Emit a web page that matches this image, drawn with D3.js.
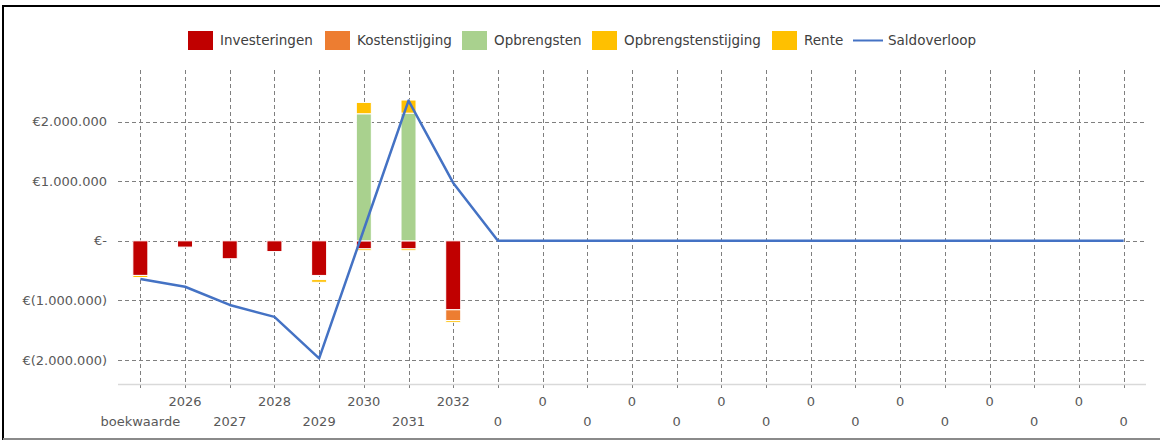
<!DOCTYPE html>
<html>
<head>
<meta charset="utf-8">
<script src="https://cdn.jsdelivr.net/npm/d3@7/dist/d3.min.js"></script>
<style>
  html, body { margin: 0; padding: 0; background: #fff; }
  svg { display: block; font-family: "DejaVu Sans", Verdana, sans-serif; }
</style>
</head>
<body>
<svg id="chart" width="1160" height="440"></svg>
<script>
// ---- data ----
const categories = ["boekwaarde","2026","2027","2028","2029","2030","2031","2032",
  "0","0","0","0","0","0","0","0","0","0","0","0","0","0","0"];
const Z = [0,0,0,0,0,0,0,0,0,0,0,0,0,0,0];
const investeringen       = [-580000,-105000,-300000,-180000,-580000,-135000,-135000,-1156000, ...Z];
const kostenstijging      = [0,0,0,0,0,0,0,-180000, ...Z];
const opbrengsten         = [0,0,0,0,0,2130000,2140000,0, ...Z];
const opbrengstenstijging = [0,0,0,0,0,190000,220000,0, ...Z];
const onzichtbaar         = [0,0,0,0,-70000,0,0,0, ...Z];   // unfilled gap seen in 2029
const rente               = [-35000,0,0,0,-45000,-30000,-30000,-30000, ...Z];
const saldoverloop        = [-640000,-770000,-1075000,-1275000,-1970000,190000,2350000,970000, ...Z];
const yTicks = [-2000000,-1000000,0,1000000,2000000];

const series = [
  {name:"Investeringen", values:investeringen, color:"#C00000", legend:true},
  {name:"Kostenstijging", values:kostenstijging, color:"#ED7D31", legend:true},
  {name:"Opbrengsten", values:opbrengsten, color:"#A9D18E", legend:true},
  {name:"Opbrengstenstijging", values:opbrengstenstijging, color:"#FFC000", legend:true},
  {name:"", values:onzichtbaar, color:"none", legend:false},
  {name:"Rente", values:rente, color:"#FFC000", legend:true}
];

// ---- layout ----
const svg = d3.select("#chart");
const plot = {left:118, right:1146, top:70, bottom:384};
const x = d3.scaleBand().domain(d3.range(categories.length)).range([plot.left, plot.right]).padding(0);
const y = d3.scaleLinear().domain([-2400000, 2830000]).range([plot.bottom, 72]);
const cx = i => x(i) + x.bandwidth()/2;

// frame
svg.append("line").attr("x1",3).attr("x2",1160).attr("y1",6).attr("y2",6).attr("stroke","#000").attr("stroke-width",2);
svg.append("line").attr("x1",3).attr("x2",3).attr("y1",5).attr("y2",440).attr("stroke","#000").attr("stroke-width",2);
svg.append("line").attr("x1",3).attr("x2",1160).attr("y1",439).attr("y2",439).attr("stroke","#8a8a8a").attr("stroke-width",2);

// horizontal gridlines
svg.append("g").selectAll("line").data(yTicks).join("line")
  .attr("x1",plot.left).attr("x2",plot.right)
  .attr("y1",d=>Math.round(y(d))+0.5).attr("y2",d=>Math.round(y(d))+0.5)
  .attr("stroke","#7f7f7f").attr("stroke-width",1).attr("stroke-dasharray","4,3");

// vertical gridlines at category centers
svg.append("g").selectAll("line").data(d3.range(categories.length)).join("line")
  .attr("x1",d=>Math.round(cx(d))+0.5).attr("x2",d=>Math.round(cx(d))+0.5)
  .attr("y1",plot.top).attr("y2",plot.bottom+4)
  .attr("stroke","#7f7f7f").attr("stroke-width",1).attr("stroke-dasharray","4,3");

// bottom axis line
svg.append("line").attr("x1",plot.left).attr("x2",plot.right)
  .attr("y1",plot.bottom+0.5).attr("y2",plot.bottom+0.5).attr("stroke","#d9d9d9").attr("stroke-width",1.5);

// y labels via axis
const yAxis = d3.axisLeft(y).tickValues(yTicks).tickSize(0).tickPadding(0)
  .tickFormat(d => {
    if (d === 0) return "€-";
    const s = d3.format(",")(Math.abs(d)).replace(/,/g,".");
    return d < 0 ? "€(" + s + ")" : "€" + s;
  });
const gy = svg.append("g").attr("transform","translate(107,0)").call(yAxis);
gy.select(".domain").remove();
gy.selectAll("text").attr("font-size",13).attr("fill","#595959").attr("font-family","DejaVu Sans, sans-serif");

// x labels: two staggered rows
const xAxis = svg.append("g");
xAxis.selectAll("text").data(categories).join("text")
  .attr("x",(d,i)=>cx(i))
  .attr("y",(d,i)=> i%2===0 ? 421 : 401)
  .attr("text-anchor","middle").attr("dominant-baseline","central")
  .attr("font-size",13).attr("fill","#595959").text(d=>d);

// stacked bars (positive and negative stacks separately)
const barW = 15;
const posBase = categories.map(()=>0), negBase = categories.map(()=>0);
const barG = svg.append("g");
series.forEach(s => {
  const segs = s.values.map((v,i) => {
    if (v >= 0) { const y0 = posBase[i]; posBase[i] += v; return {i, y0, y1: posBase[i], v}; }
    const y0 = negBase[i]; negBase[i] += v; return {i, y0, y1: negBase[i], v};
  }).filter(d => d.v !== 0);
  barG.append("g").selectAll("rect").data(segs).join("rect")
    .attr("x", d => cx(d.i) - barW/2)
    .attr("width", barW)
    .attr("y", d => y(Math.max(d.y0, d.y1)))
    .attr("height", d => Math.abs(y(d.y0) - y(d.y1)))
    .attr("fill", s.color)
    .attr("stroke", s.color === "none" ? "none" : "#fff")
    .attr("stroke-width", 1);
});

// line
const line = d3.line().x((d,i)=>cx(i)).y(d=>y(d));
svg.append("path").datum(saldoverloop).attr("d",line)
  .attr("fill","none").attr("stroke","#4472C4").attr("stroke-width",2.5).attr("stroke-linejoin","round");

// legend
const legendItems = series.filter(s=>s.legend).map(s=>({name:s.name,color:s.color,type:"rect"}))
  .concat([{name:"Saldoverloop", color:"#4472C4", type:"line"}]);
const legendX = [188, 325, 462, 592, 772, 853];
const lg = svg.append("g");
legendItems.forEach((it,k) => {
  const g = lg.append("g").attr("transform",`translate(${legendX[k]},0)`);
  let tx;
  if (it.type === "rect") {
    g.append("rect").attr("x",0).attr("y",31).attr("width",25).attr("height",19).attr("fill",it.color);
    tx = 32;
  } else {
    g.append("line").attr("x1",0).attr("x2",30).attr("y1",40.5).attr("y2",40.5).attr("stroke",it.color).attr("stroke-width",2);
    tx = 35;
  }
  g.append("text").attr("x",tx).attr("y",40).attr("dominant-baseline","central")
    .attr("font-size",13.5).attr("fill","#404040").text(it.name);
});
</script>
</body>
</html>
